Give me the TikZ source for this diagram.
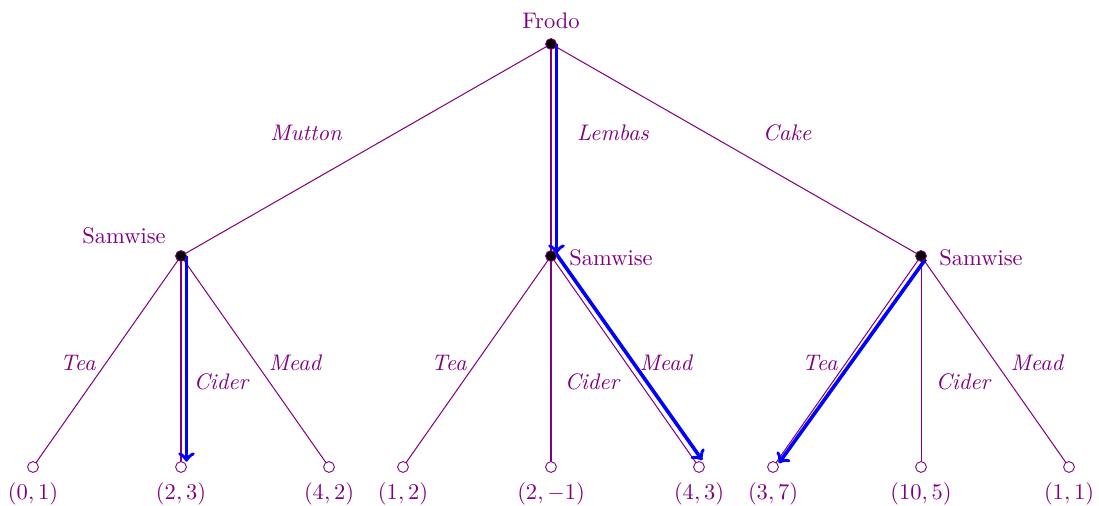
\documentclass[tikz,border=0pt]{standalone}
\definecolor{mypurple}{RGB}{128,0,128}
\tikzset{
  solidnode/.style={circle,draw=mypurple,fill=black,minimum size=4.8pt,inner sep=0pt},
  hollownode/.style={circle,draw=mypurple,fill=white,minimum size=4.8pt,inner sep=0pt},
  edge/.style={draw=mypurple,line width=0.45pt},
  chosen/.style={draw=blue,line width=1.6pt,->,shorten >=1pt},
  lbl/.style={text=mypurple,inner sep=0pt},
  elbl/.style={text=mypurple,inner sep=0pt,font=\itshape},
}
\begin{document}
\begin{tikzpicture}[x=0.4444pt,y=-0.4444pt]
\useasboundingbox (0,0) rectangle (1099,506);
% edges first (drawn under nodes)
\coordinate (r) at (551,44);
\coordinate (a) at (181,256);
\coordinate (b) at (551,256);
\coordinate (c) at (921,256);
\foreach \n/\x in {a1/33,a2/181,a3/329,b1/403,b2/551,b3/699,c1/773,c2/921,c3/1069}
  \coordinate (\n) at (\x,467);
\foreach \p/\q in {r/a,r/b,r/c,a/a1,a/a2,a/a3,b/b1,b/b2,b/b3,c/c1,c/c2,c/c3}
  \draw[edge] (\p) -- (\q);
% chosen arrows
\draw[chosen] ([shift={(5.5,0)}]r) -- ([shift={(5.5,0)}]b);
\draw[chosen] ([shift={(5.5,0)}]a) -- ([shift={(5.5,-3)}]a2);
\draw[chosen] ([shift={(4.5,-3.2)}]b) -- ([shift={(4.5,-5)}]b3);
\draw[chosen] ([shift={(4.5,3.2)}]c) -- ([shift={(4.5,-2)}]c1);
% nodes
\node[solidnode] (R) at (r) {};
\node[solidnode] (A) at (a) {};
\node[solidnode] (B) at (b) {};
\node[solidnode] (C) at (c) {};
\foreach \n in {a1,a2,a3,b1,b2,b3,c1,c2,c3}
  \node[hollownode] (N\n) at (\n) {};
% player labels
\node[lbl] (tR) at (551,21) {Frodo};
\node[lbl] (tA) at (124,236) {Samwise};
\node[lbl] (tB) at (611,258) {Samwise};
\node[lbl] (tC) at (981,258) {Samwise};
% action labels
\node[elbl] at (306,133) {Mutton};
\node[elbl] at (613,133) {Lembas};
\node[elbl] at (787,133) {Cake};
\foreach \x in {0,371,742}{
  \node[elbl] at (78+\x,363) {Tea};
  \node[elbl] at (221+\x,382) {Cider};
  \node[elbl] at (295+\x,363) {Mead};
}
% payoffs
\node[lbl] at (33,494) {$(0,1)$};
\node[lbl] at (181,494) {$(2,3)$};
\node[lbl] at (329,494) {$(4,2)$};
\node[lbl] at (403,494) {$(1,2)$};
\node[lbl] at (551,494) {$(2,-1)$};
\node[lbl] at (699,494) {$(4,3)$};
\node[lbl] at (773,494) {$(3,7)$};
\node[lbl] at (921,494) {$(10,5)$};
\node[lbl] at (1069,494) {$(1,1)$};
\end{tikzpicture}
\end{document}
